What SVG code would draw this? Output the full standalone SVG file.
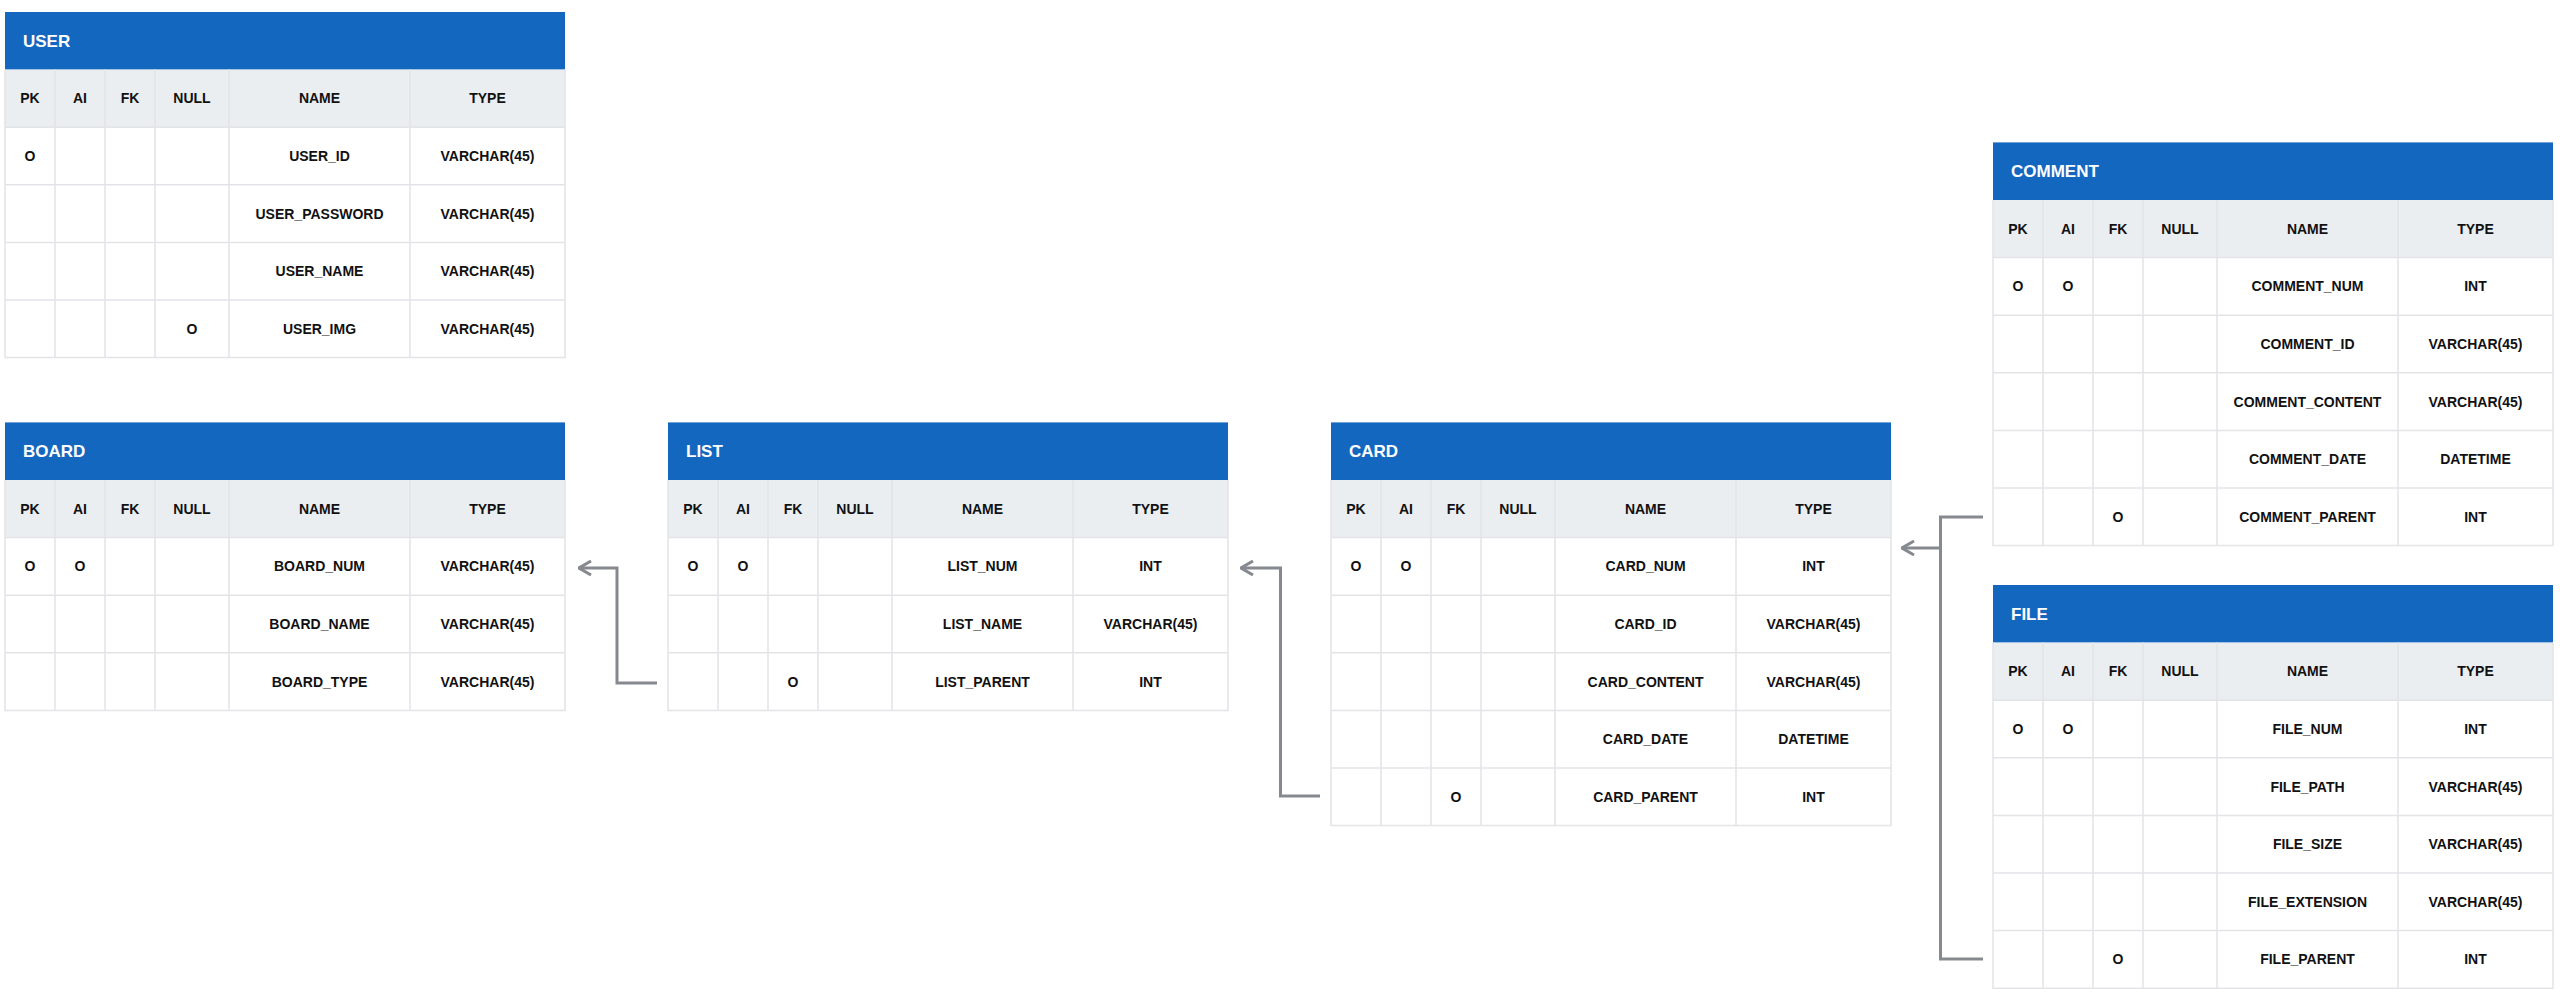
<svg xmlns="http://www.w3.org/2000/svg" width="2560" height="1006" viewBox="0 0 2560 1006">
<style>
text{font-family:"Liberation Sans",Arial,sans-serif;font-weight:bold;fill:#111;}
.title{font-size:17px;fill:#fff;}
.t{font-size:14px;text-anchor:middle;}
.hdr{fill:#1467BF;}
.col{fill:#EBEEF1;}
.body{fill:#fff;}
.g{stroke:#E2E4E7;stroke-width:1.5;fill:none;}
.conn{stroke:#868A8F;stroke-width:3;fill:none;}
</style>
<defs>
<marker id="arr" viewBox="0 0 14 16" refX="13" refY="8" markerWidth="14" markerHeight="16" markerUnits="userSpaceOnUse" orient="auto">
<path d="M1,1 L13,8 L1,15" fill="none" stroke="#868A8F" stroke-width="3"/>
</marker>
</defs>

<g id="connectors">
<path class="conn" d="M657,683 H617 V568 H579" marker-end="url(#arr)"/>
<path class="conn" d="M1320,796 H1280.5 V568 H1241" marker-end="url(#arr)"/>
<path class="conn" d="M1983,517 H1940.5 V548 H1902" marker-end="url(#arr)"/>
<path class="conn" d="M1983,959 H1940.5 V548"/>
</g>

<!-- USER -->
<g id="user" transform="translate(5,12)">
<rect class="hdr" x="0" y="0" width="560" height="57.6"/>
<rect class="col" x="0" y="57.6" width="560" height="57.6"/>
<rect class="body" x="0" y="115.2" width="560" height="230.4"/>
<path class="g" d="M0,57.6 V345.6 H560 V57.6 M50,57.6 V345.6 M100,57.6 V345.6 M150,57.6 V345.6 M224,57.6 V345.6 M405,57.6 V345.6 M0,115.2 H560 M0,172.8 H560 M0,230.4 H560 M0,288 H560"/>
<text class="title" x="18" y="34.8">USER</text>
<text class="t" x="25" y="91.4">PK</text><text class="t" x="75" y="91.4">AI</text><text class="t" x="125" y="91.4">FK</text><text class="t" x="187" y="91.4">NULL</text><text class="t" x="314.5" y="91.4">NAME</text><text class="t" x="482.5" y="91.4">TYPE</text>
<text class="t" x="25" y="149">O</text><text class="t" x="314.5" y="149">USER_ID</text><text class="t" x="482.5" y="149">VARCHAR(45)</text>
<text class="t" x="314.5" y="206.6">USER_PASSWORD</text><text class="t" x="482.5" y="206.6">VARCHAR(45)</text>
<text class="t" x="314.5" y="264.2">USER_NAME</text><text class="t" x="482.5" y="264.2">VARCHAR(45)</text>
<text class="t" x="187" y="321.8">O</text><text class="t" x="314.5" y="321.8">USER_IMG</text><text class="t" x="482.5" y="321.8">VARCHAR(45)</text>
</g>

<!-- BOARD -->
<g id="board" transform="translate(5,422.4)">
<rect class="hdr" x="0" y="0" width="560" height="57.6"/>
<rect class="col" x="0" y="57.6" width="560" height="57.6"/>
<rect class="body" x="0" y="115.2" width="560" height="172.8"/>
<path class="g" d="M0,57.6 V288 H560 V57.6 M50,57.6 V288 M100,57.6 V288 M150,57.6 V288 M224,57.6 V288 M405,57.6 V288 M0,115.2 H560 M0,172.8 H560 M0,230.4 H560"/>
<text class="title" x="18" y="34.8">BOARD</text>
<text class="t" x="25" y="91.4">PK</text><text class="t" x="75" y="91.4">AI</text><text class="t" x="125" y="91.4">FK</text><text class="t" x="187" y="91.4">NULL</text><text class="t" x="314.5" y="91.4">NAME</text><text class="t" x="482.5" y="91.4">TYPE</text>
<text class="t" x="25" y="149">O</text><text class="t" x="75" y="149">O</text><text class="t" x="314.5" y="149">BOARD_NUM</text><text class="t" x="482.5" y="149">VARCHAR(45)</text>
<text class="t" x="314.5" y="206.6">BOARD_NAME</text><text class="t" x="482.5" y="206.6">VARCHAR(45)</text>
<text class="t" x="314.5" y="264.2">BOARD_TYPE</text><text class="t" x="482.5" y="264.2">VARCHAR(45)</text>
</g>

<!-- LIST -->
<g id="list" transform="translate(668,422.4)">
<rect class="hdr" x="0" y="0" width="560" height="57.6"/>
<rect class="col" x="0" y="57.6" width="560" height="57.6"/>
<rect class="body" x="0" y="115.2" width="560" height="172.8"/>
<path class="g" d="M0,57.6 V288 H560 V57.6 M50,57.6 V288 M100,57.6 V288 M150,57.6 V288 M224,57.6 V288 M405,57.6 V288 M0,115.2 H560 M0,172.8 H560 M0,230.4 H560"/>
<text class="title" x="18" y="34.8">LIST</text>
<text class="t" x="25" y="91.4">PK</text><text class="t" x="75" y="91.4">AI</text><text class="t" x="125" y="91.4">FK</text><text class="t" x="187" y="91.4">NULL</text><text class="t" x="314.5" y="91.4">NAME</text><text class="t" x="482.5" y="91.4">TYPE</text>
<text class="t" x="25" y="149">O</text><text class="t" x="75" y="149">O</text><text class="t" x="314.5" y="149">LIST_NUM</text><text class="t" x="482.5" y="149">INT</text>
<text class="t" x="314.5" y="206.6">LIST_NAME</text><text class="t" x="482.5" y="206.6">VARCHAR(45)</text>
<text class="t" x="125" y="264.2">O</text><text class="t" x="314.5" y="264.2">LIST_PARENT</text><text class="t" x="482.5" y="264.2">INT</text>
</g>

<!-- CARD -->
<g id="card" transform="translate(1331,422.4)">
<rect class="hdr" x="0" y="0" width="560" height="57.6"/>
<rect class="col" x="0" y="57.6" width="560" height="57.6"/>
<rect class="body" x="0" y="115.2" width="560" height="288"/>
<path class="g" d="M0,57.6 V403.2 H560 V57.6 M50,57.6 V403.2 M100,57.6 V403.2 M150,57.6 V403.2 M224,57.6 V403.2 M405,57.6 V403.2 M0,115.2 H560 M0,172.8 H560 M0,230.4 H560 M0,288 H560 M0,345.6 H560"/>
<text class="title" x="18" y="34.8">CARD</text>
<text class="t" x="25" y="91.4">PK</text><text class="t" x="75" y="91.4">AI</text><text class="t" x="125" y="91.4">FK</text><text class="t" x="187" y="91.4">NULL</text><text class="t" x="314.5" y="91.4">NAME</text><text class="t" x="482.5" y="91.4">TYPE</text>
<text class="t" x="25" y="149">O</text><text class="t" x="75" y="149">O</text><text class="t" x="314.5" y="149">CARD_NUM</text><text class="t" x="482.5" y="149">INT</text>
<text class="t" x="314.5" y="206.6">CARD_ID</text><text class="t" x="482.5" y="206.6">VARCHAR(45)</text>
<text class="t" x="314.5" y="264.2">CARD_CONTENT</text><text class="t" x="482.5" y="264.2">VARCHAR(45)</text>
<text class="t" x="314.5" y="321.8">CARD_DATE</text><text class="t" x="482.5" y="321.8">DATETIME</text>
<text class="t" x="125" y="379.4">O</text><text class="t" x="314.5" y="379.4">CARD_PARENT</text><text class="t" x="482.5" y="379.4">INT</text>
</g>

<!-- COMMENT -->
<g id="comment" transform="translate(1993,142.4)">
<rect class="hdr" x="0" y="0" width="560" height="57.6"/>
<rect class="col" x="0" y="57.6" width="560" height="57.6"/>
<rect class="body" x="0" y="115.2" width="560" height="288"/>
<path class="g" d="M0,57.6 V403.2 H560 V57.6 M50,57.6 V403.2 M100,57.6 V403.2 M150,57.6 V403.2 M224,57.6 V403.2 M405,57.6 V403.2 M0,115.2 H560 M0,172.8 H560 M0,230.4 H560 M0,288 H560 M0,345.6 H560"/>
<text class="title" x="18" y="34.8">COMMENT</text>
<text class="t" x="25" y="91.4">PK</text><text class="t" x="75" y="91.4">AI</text><text class="t" x="125" y="91.4">FK</text><text class="t" x="187" y="91.4">NULL</text><text class="t" x="314.5" y="91.4">NAME</text><text class="t" x="482.5" y="91.4">TYPE</text>
<text class="t" x="25" y="149">O</text><text class="t" x="75" y="149">O</text><text class="t" x="314.5" y="149">COMMENT_NUM</text><text class="t" x="482.5" y="149">INT</text>
<text class="t" x="314.5" y="206.6">COMMENT_ID</text><text class="t" x="482.5" y="206.6">VARCHAR(45)</text>
<text class="t" x="314.5" y="264.2">COMMENT_CONTENT</text><text class="t" x="482.5" y="264.2">VARCHAR(45)</text>
<text class="t" x="314.5" y="321.8">COMMENT_DATE</text><text class="t" x="482.5" y="321.8">DATETIME</text>
<text class="t" x="125" y="379.4">O</text><text class="t" x="314.5" y="379.4">COMMENT_PARENT</text><text class="t" x="482.5" y="379.4">INT</text>
</g>

<!-- FILE -->
<g id="file" transform="translate(1993,585)">
<rect class="hdr" x="0" y="0" width="560" height="57.6"/>
<rect class="col" x="0" y="57.6" width="560" height="57.6"/>
<rect class="body" x="0" y="115.2" width="560" height="288"/>
<path class="g" d="M0,57.6 V403.2 H560 V57.6 M50,57.6 V403.2 M100,57.6 V403.2 M150,57.6 V403.2 M224,57.6 V403.2 M405,57.6 V403.2 M0,115.2 H560 M0,172.8 H560 M0,230.4 H560 M0,288 H560 M0,345.6 H560"/>
<text class="title" x="18" y="34.8">FILE</text>
<text class="t" x="25" y="91.4">PK</text><text class="t" x="75" y="91.4">AI</text><text class="t" x="125" y="91.4">FK</text><text class="t" x="187" y="91.4">NULL</text><text class="t" x="314.5" y="91.4">NAME</text><text class="t" x="482.5" y="91.4">TYPE</text>
<text class="t" x="25" y="149">O</text><text class="t" x="75" y="149">O</text><text class="t" x="314.5" y="149">FILE_NUM</text><text class="t" x="482.5" y="149">INT</text>
<text class="t" x="314.5" y="206.6">FILE_PATH</text><text class="t" x="482.5" y="206.6">VARCHAR(45)</text>
<text class="t" x="314.5" y="264.2">FILE_SIZE</text><text class="t" x="482.5" y="264.2">VARCHAR(45)</text>
<text class="t" x="314.5" y="321.8">FILE_EXTENSION</text><text class="t" x="482.5" y="321.8">VARCHAR(45)</text>
<text class="t" x="125" y="379.4">O</text><text class="t" x="314.5" y="379.4">FILE_PARENT</text><text class="t" x="482.5" y="379.4">INT</text>
</g>
</svg>
